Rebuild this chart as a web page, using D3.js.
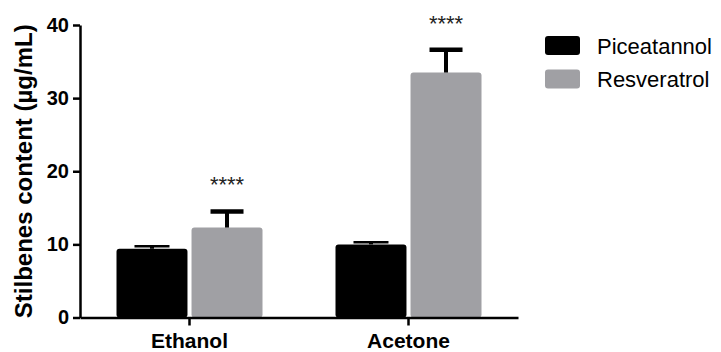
<!DOCTYPE html>
<html>
<head>
<meta charset="utf-8">
<script src="https://cdn.jsdelivr.net/npm/d3@7"></script>
<style>
  html, body { margin: 0; padding: 0; background: #fff; }
  svg { display: block; font-family: "Liberation Sans", Arial, Helvetica, sans-serif; }
</style>
</head>
<body>
<svg id="chart" width="721" height="352"></svg>
<script>
// Solvents on the x axis, compounds as grouped bars
const categories = ["Ethanol", "Acetone"];
const series = ["Piceatannol", "Resveratrol"];
const piceatannol = [9.4, 10.0];
const piceatannolErr = [0.35, 0.3];
const resveratrol = [12.3, 33.5];
const resveratrolErr = [2.2, 3.1];
const significance = [null, "****"];   // per series, marks above bars
const yTicks = [0, 10, 20, 30, 40];
const colors = ["#000000", "#a0a0a4"];

const values = [piceatannol, resveratrol];
const errors = [piceatannolErr, resveratrolErr];

const rows = [];
categories.forEach((c, i) => {
  series.forEach((s, j) => {
    rows.push({ cat: c, series: s, si: j, v: values[j][i], e: errors[j][i], sig: significance[j] });
  });
});

const svg = d3.select("#chart");
const plotLeft = 80, plotRight = 518, plotTop = 25, plotBottom = 317.5;

const y = d3.scaleLinear().domain([0, 40]).range([plotBottom, plotTop]);
const x0 = d3.scaleBand().domain(categories).range([plotLeft, plotRight]);
const x1 = d3.scaleBand().domain(series)
  .range([36.5, x0.bandwidth() - 36.5])
  .paddingInner(0.054);

// Bars
svg.append("g").selectAll("rect").data(rows).join("rect")
  .attr("x", d => x0(d.cat) + x1(d.series))
  .attr("y", d => y(d.v))
  .attr("width", x1.bandwidth())
  .attr("height", d => y(0) - y(d.v))
  .attr("rx", 3)
  .attr("fill", d => colors[d.si]);

// Error bars (upper whisker with cap)
const eb = svg.append("g").attr("stroke", "#000");
rows.forEach(d => {
  const cx = x0(d.cat) + x1(d.series) + x1.bandwidth() / 2;
  const big = d.e > 1;
  eb.append("line")
    .attr("x1", cx).attr("x2", cx)
    .attr("y1", y(d.v)).attr("y2", y(d.v + d.e))
    .attr("stroke-width", 4);
  eb.append("line")
    .attr("x1", cx - (big ? 16.5 : 17.5)).attr("x2", cx + (big ? 16.5 : 17.5))
    .attr("y1", y(d.v + d.e)).attr("y2", y(d.v + d.e))
    .attr("stroke-width", big ? 4.5 : 2.5);
});

// Significance stars
svg.append("g").selectAll("text").data(rows.filter(d => d.sig)).join("text")
  .attr("x", d => x0(d.cat) + x1(d.series) + x1.bandwidth() / 2)
  .attr("y", d => y(d.v + d.e) - 19)
  .attr("text-anchor", "middle")
  .attr("font-size", 22)
  .attr("fill", "#222")
  .text(d => d.sig);

// Y axis
const yAxis = svg.append("g")
  .attr("transform", `translate(${plotLeft},0)`)
  .call(d3.axisLeft(y).tickValues(yTicks).tickSize(7).tickPadding(4).tickSizeOuter(0));
yAxis.select(".domain").attr("stroke-width", 2.5).attr("stroke", "#000");
yAxis.selectAll(".tick line").attr("stroke-width", 2.5).attr("stroke", "#000");
yAxis.selectAll(".tick text")
  .attr("font-size", 20).attr("font-weight", "bold").attr("fill", "#000")
  .attr("font-family", "Liberation Sans, Arial, sans-serif");

// X axis
const xAxis = svg.append("g")
  .attr("transform", `translate(0,${plotBottom})`)
  .call(d3.axisBottom(x0).tickSize(8).tickPadding(8).tickSizeOuter(0));
xAxis.select(".domain").attr("stroke-width", 2.5).attr("stroke", "#000");
xAxis.selectAll(".tick line").attr("stroke-width", 2.5).attr("stroke", "#000");
xAxis.selectAll(".tick text")
  .attr("font-size", 21).attr("font-weight", "bold").attr("fill", "#000")
  .attr("font-family", "Liberation Sans, Arial, sans-serif");

// Y axis title
svg.append("text")
  .attr("transform", `translate(32,${(plotTop + plotBottom) / 2}) rotate(-90)`)
  .attr("text-anchor", "middle")
  .attr("font-size", 24)
  .attr("font-weight", "bold")
  .text("Stilbenes content (µg/mL)");

// Legend
const legend = svg.append("g").attr("transform", "translate(545,36)");
series.forEach((s, j) => {
  const g = legend.append("g").attr("transform", `translate(0,${j * 33.5})`);
  g.append("rect").attr("width", 35).attr("height", 19).attr("rx", 3).attr("fill", colors[j]);
  g.append("text").attr("x", 52).attr("y", 17.5).attr("font-size", 22).attr("fill", "#000").text(s);
});
</script>
</body>
</html>
